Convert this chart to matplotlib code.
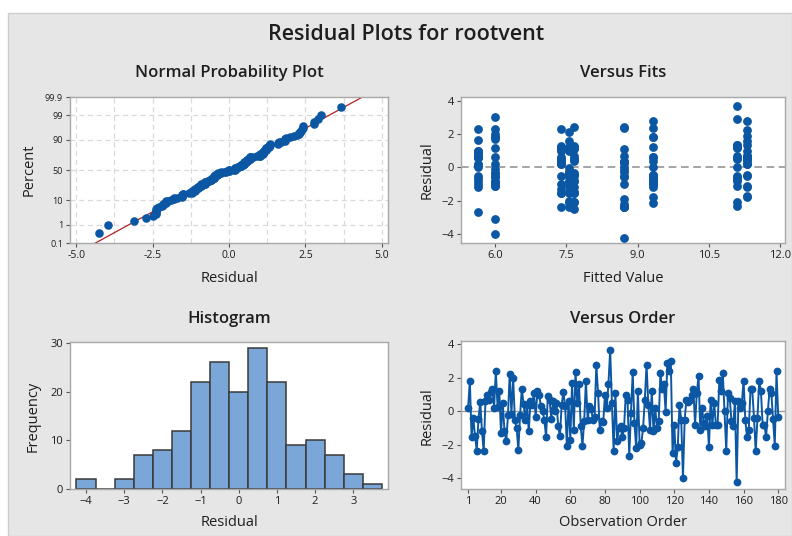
import matplotlib
matplotlib.use("Agg")
import matplotlib.pyplot as plt
import numpy as np
from statistics import NormalDist
from matplotlib.patches import Rectangle

plt.rcParams['font.family'] = ['Open Sans', 'DejaVu Sans']

# ---------------- data ----------------
residuals = [
    0.2, 1.83, -1.55, -0.4, -1.5, -2.35, -0.45, 0.55, -1.2, -2.4,
    0.6, 1.0, 0.7, 1.15, 1.35, 0.2, 2.42, 0.25, 1.2, -1.3,
    0.5, -1.2, -1.8, -0.25, 2.22, -0.15, 2.0, -0.55, -1.0, -2.3,
    -0.25, 1.35, 0.45, -0.5, 0.4, -1.2, 0.6, 0.4, 1.1, -0.35,
    1.2, 1.0, 0.3, 0.0, -0.5, -1.55, 0.9, 0.7, -0.45, 0.6,
    0.0, 0.5, -0.9, -1.5, 0.4, 1.15, 0.3, -2.05, 0.6, -1.7,
    1.7, -1.1, 2.35, 0.5, 1.6, -0.9, -2.05, -0.6, 1.83, -0.5,
    0.3, 0.15, -0.5, -0.35, 2.78, 1.1, -1.1, -0.6, -0.65, 1.0,
    0.2, 1.65, 3.67, 0.5, -2.4, 1.1, -1.8, -1.0, -0.9, -1.55,
    -1.0, 1.0, 0.7, -2.7, -0.1, 2.32, -0.7, -2.2, 1.2, -2.0,
    -1.9, -1.0, 0.7, 2.78, 0.4, -1.1, 1.2, -1.2, 0.2, -1.0,
    -0.6, 2.28, 1.3, 1.6, -0.05, 2.9, 2.38, 3.0, -2.5, -0.8,
    -3.1, -2.15, 0.4, -0.5, -3.97, -0.5, 0.7, 0.55, 0.7, 1.0,
    1.35, -0.8, 1.1, 2.12, -1.1, 0.2, -0.7, -0.9, -0.3, -2.15,
    0.7, -0.8, 0.5, -0.8, -0.8, 1.88, 1.2, 2.28, 0.0, -2.4,
    1.1, 0.8, -0.6, -0.9, 0.6, -4.26, 0.6, 0.2, 0.5, 1.83,
    -0.55, -1.55, -1.1, 1.3, 1.3, -0.4, -2.4, -0.4, 1.83, 1.2,
    -0.8, -0.8, -1.55, 0.0, 1.3, 1.1, -0.45, -2.05, 2.42, -0.35,
]

fit_levels = {"A": 5.64, "B": 5.99, "C": 7.39, "D": 7.56, "E": 7.66,
              "F": 8.72, "G": 9.33, "H": 11.08, "I": 11.30}
fit_group = ("ABCDEFGHI" "DGAIBHCEF" "HCEAGDIFB" "BFHDICAGE" "GIDBEAFHC"
             "EAIGCFHBD" "CHFEAIBDG" "IDBHFGECA" "FEGCHBADI" "AHCFDIGBE"
             "GIEABCHFD" "DFAHIEBCG" "BCGAEIDHF" "BEDBGFIBH" "FAICHGEDB"
             "CGBFDAHIE" "EIHBGCFAD" "DBFAIEGHC" "IHCEFDBGA" "GDAHCIEFB")

hist_centers = [-4.0, -3.5, -3.0, -2.5, -2.0, -1.5, -1.0, -0.5,
                0.0, 0.5, 1.0, 1.5, 2.0, 2.5, 3.0, 3.5]
hist_counts = [2, 0, 2, 7, 8, 12, 22, 26, 20, 29, 22, 9, 10, 7, 3, 1]

pct_ticks = [0.1, 1, 10, 50, 90, 99, 99.9]
pct_labels = ["0.1", "1", "10", "50", "90", "99", "99.9"]

# ---------------- styling ----------------
W, H = 792, 536
BLUE = "#0b57a4"
TXT = "#1e1e1e"
SPINE = "#a8a8a8"


def ax_rect(l, t, r, b):
    return [l / W, 1 - b / H, (r - l) / W, (b - t) / H]


def ftext(x, y, s, **kw):
    fig.text(x / W, 1 - y / H, s, ha="center", va="center", color=TXT, **kw)


def style(ax, fs=8):
    for sp in ax.spines.values():
        sp.set_color(SPINE)
        sp.set_linewidth(1.0)
    ax.tick_params(colors="#555555", labelcolor=TXT, labelsize=fs,
                   length=3, width=0.8, pad=2)
    ax.set_facecolor("white")


fig = plt.figure(figsize=(W / 100, H / 100), dpi=100)
fig.patch.set_facecolor("white")
fig.add_artist(Rectangle((8 / W, 0), 1 - 8 / W, 1 - 13 / H,
                         transform=fig.transFigure, facecolor="#e6e6e6",
                         edgecolor="#cdcdcd", lw=1.0, zorder=-10))

res = np.array(residuals)
n = len(res)
nd = NormalDist()

# ---- Normal probability plot ----
ax1 = fig.add_axes(ax_rect(70, 97, 388, 243))
style(ax1, 7.5)
srt = np.sort(res)
probs = [(i - 0.3) / (n + 0.4) for i in range(1, n + 1)]
zs = np.array([nd.inv_cdf(p) for p in probs])
zlim = nd.inv_cdf(0.999)
ax1.set_xlim(-5.2, 5.2)
ax1.set_ylim(-zlim, zlim)
for xv in np.arange(-5.0, 5.01, 1.25):
    ax1.axvline(xv, color="#d9d9d9", lw=0.9, ls=(0, (4, 3)), zorder=0)
for p in pct_ticks[1:-1]:
    ax1.axhline(nd.inv_cdf(p / 100), color="#d9d9d9", lw=0.9,
                ls=(0, (4, 3)), zorder=0)
mu, sd = res.mean(), res.std(ddof=1)
xl = np.array([-5.2, 5.2])
ax1.plot(xl, (xl - mu) / sd, color="#b22222", lw=0.9, zorder=2)
ax1.scatter(srt, zs, s=38, color=BLUE, zorder=3, linewidths=0)
ax1.set_xticks([-5.0, -2.5, 0.0, 2.5, 5.0])
ax1.set_xticklabels(["-5.0", "-2.5", "0.0", "2.5", "5.0"])
ax1.set_yticks([nd.inv_cdf(p / 100) for p in pct_ticks])
ax1.set_yticklabels(pct_labels, fontsize=6.5)

# ---- Versus fits ----
ax2 = fig.add_axes(ax_rect(461, 97, 785, 243))
style(ax2)
fits = [fit_levels[g] for g in fit_group]
ax2.axhline(0, color="#8c8c8c", lw=1.1, ls=(0, (5, 3)), zorder=1)
ax2.scatter(fits, res, s=40, color=BLUE, zorder=3, linewidths=0)
ax2.set_xlim(5.28, 12.1)
ax2.set_ylim(-4.54, 4.22)
ax2.set_xticks([6.0, 7.5, 9.0, 10.5, 12.0])
ax2.set_xticklabels(["6.0", "7.5", "9.0", "10.5", "12.0"])
ax2.set_yticks([-4, -2, 0, 2, 4])

# ---- Histogram ----
ax3 = fig.add_axes(ax_rect(70, 342, 388, 489))
style(ax3)
ax3.bar(hist_centers, hist_counts, width=0.5, color="#7ba6d8",
        edgecolor="#3a3a3a", linewidth=1.1, zorder=2)
ax3.set_xlim(-4.42, 3.91)
ax3.set_ylim(0, 30.2)
ax3.set_xticks([-4, -3, -2, -1, 0, 1, 2, 3])
ax3.set_yticks([0, 10, 20, 30])

# ---- Versus order ----
ax4 = fig.add_axes(ax_rect(461, 341, 785, 489))
style(ax4)
order = np.arange(1, n + 1)
ax4.axhline(0, color="#9a9a9a", lw=1.0, zorder=1)
ax4.plot(order, res, color=BLUE, lw=1.4, marker="o", markersize=5.6,
         markeredgewidth=0, zorder=3)
ax4.set_xlim(-3.1, 183.9)
ax4.set_ylim(-4.65, 4.2)
ax4.set_xticks([1, 20, 40, 60, 80, 100, 120, 140, 160, 180])
ax4.set_yticks([-4, -2, 0, 2, 4])

# ---- texts ----
ftext(406, 35, "Residual Plots for rootvent", fontsize=15.5,
      fontweight="semibold")
ftext(229, 73, "Normal Probability Plot", fontsize=12, fontweight="semibold")
ftext(623, 73, "Versus Fits", fontsize=12, fontweight="semibold")
ftext(229, 319, "Histogram", fontsize=12, fontweight="semibold")
ftext(623, 319, "Versus Order", fontsize=12, fontweight="semibold")
ftext(229, 278, "Residual", fontsize=10.5)
ftext(623, 278, "Fitted Value", fontsize=10.5)
ftext(229, 523, "Residual", fontsize=10.5)
ftext(623, 523, "Observation Order", fontsize=10.5)
ftext(29, 170, "Percent", fontsize=10.5, rotation=90)
ftext(427, 170, "Residual", fontsize=10.5, rotation=90)
ftext(33, 416, "Frequency", fontsize=10.5, rotation=90)
ftext(427, 416, "Residual", fontsize=10.5, rotation=90)

fig.savefig("out.png", dpi=100)
